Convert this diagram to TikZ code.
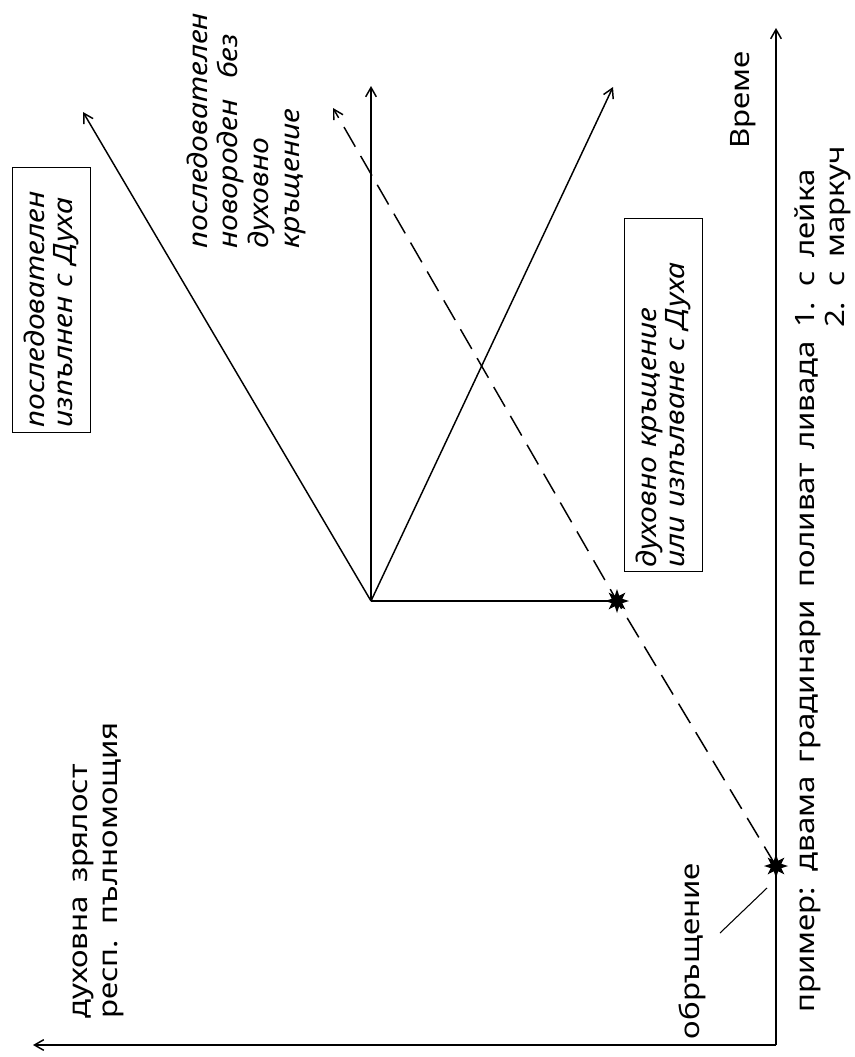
\documentclass[tikz,border=0pt]{standalone}
\usepackage{fontspec}
\setmainfont{Noto Sans}[Language=Bulgarian, FakeStretch=1.17, WordSpace=1.6,
  ItalicFeatures={FakeStretch=1.13, WordSpace=2.6}]
\usetikzlibrary{arrows.meta,shapes.geometric}
\begin{document}
\begin{tikzpicture}[x=0.75pt,y=-0.75pt,
  txt/.style={rotate=90, inner sep=0pt, align=left,
    font=\fontsize{20}{22.5}\selectfont},
  itxt/.style={txt, font=\fontsize{20}{23}\selectfont\itshape},
  boxtxt/.style={rotate=90, draw, line width=0.8pt, align=left,
    inner ysep=0pt, minimum height=58pt,
    font=\fontsize{20}{21}\selectfont\itshape},
  ln/.style={line width=1.1pt},
  axis/.style={ln, -{Straight Barb[length=7pt,width=8pt]}},
  arr/.style={ln, -{Straight Barb[length=7pt,width=8pt]}},
  dsh/.style={ln, dash pattern=on 17pt off 8pt, -{Straight Barb[length=7pt,width=8pt]}},
  starnode/.style={star, star points=8, star point ratio=2.1, fill=black,
    minimum size=18pt, inner sep=0pt},
  leader/.style={line width=0.8pt}]
\useasboundingbox (0,0) rectangle (855,1057);
% axes
\coordinate (O) at (776,1045);
\coordinate (T) at (776,28);
\coordinate (M) at (33,1045);
\draw[axis] (O) -- (T);
\draw[axis] (O) -- (M);
% branch
\coordinate (B) at (371,601);
\node[starnode] (S1) at (617,601) {};
\node[starnode] (S2) at (776,866) {};
\coordinate (L) at (83,112);
\coordinate (V) at (371,86);
\coordinate (R) at (613,87);
\coordinate (D) at (333,108);
\draw[arr] (B) -- (L);
\draw[arr] (B) -- (V);
\draw[arr] (B) -- (R);
\draw[ln] (B) -- (S1.center);
\draw[dsh] (S2.center) -- (S1.center) -- (D);
% labels
\node[itxt, anchor=west] (lbl4) at (246,249)
  {последователен\\новороден без\\духовно\\кръщение};
\node[boxtxt, inner xsep=4pt, text width=191pt] (box1) at (51.5,300)
  {последователен\\изпълнен с Духа};
\node[boxtxt, inner xsep=3pt, text width=259pt] (box2) at (663.5,395)
  {духовно кръщение\\или изпълване с Духа};
\node[txt, anchor=west] (mat) at (98,1019) {духовна зрялост\\респ. пълномощия};
\node[txt] (time) at (743,100) {Време};
\node[txt] (conv) at (692,951) {обръщение};
\coordinate (ld1) at (720,933);
\coordinate (ld2) at (767,888);
\draw[leader] (ld1) -- (ld2);
\node[txt, anchor=base west] (ex) at (814,1013)
  {пример: двама градинари поливат ливада \begin{tabular}[t]{@{}l@{}}1. с лейка\\2. с маркуч\end{tabular}};
\end{tikzpicture}
\end{document}
